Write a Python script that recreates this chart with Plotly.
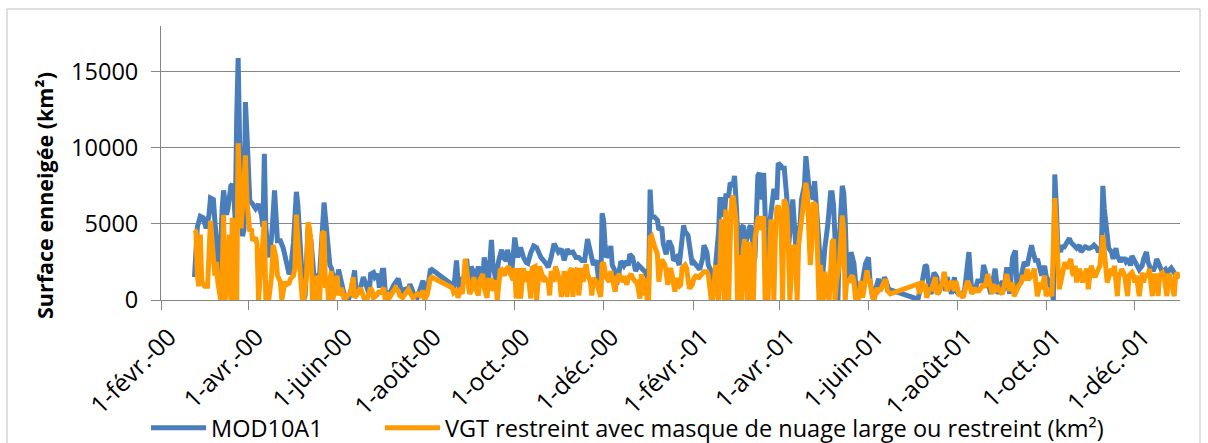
import pandas as pd
import plotly.graph_objects as go

# ---- data (day offset from 1 Feb 2000, value in km²) ----
start_date = "2000-02-01"

mod_days = [23, 25, 27, 29, 31, 33, 34, 36, 37, 38, 39, 41, 42, 43, 45, 46, 48, 49, 50, 51, 52, 53, 54, 55, 56, 57, 58, 59, 60, 61, 63, 65, 67, 69, 70, 71, 72, 74, 76, 78, 80, 82, 84, 86, 88, 89, 91, 93, 94, 96, 98, 99, 101, 103, 105, 107, 109, 112, 114, 116, 117, 120, 122, 124, 126, 129, 131, 133,
            134, 136, 137, 139, 141, 143, 144, 146, 147, 149, 150, 152, 153, 154, 156, 158, 160, 162, 163, 165, 167, 168, 170, 171, 173, 174, 176, 178, 180, 182, 183, 185, 186,
            200, 201, 203, 204, 206, 207, 209, 210, 212, 213, 215, 216, 218, 219, 221, 222, 224, 225, 227, 228, 230, 232, 234, 235, 237, 238, 240, 241,
            243, 245, 247, 249, 251, 252, 254, 256, 258, 261, 264, 266, 268, 270, 273, 275, 277, 279, 280, 283, 285, 287, 289, 291, 293, 295, 297, 299, 300, 302, 303, 304, 305, 306, 308, 309, 310, 312, 313, 315, 316, 318, 320, 321, 322, 324, 325, 326, 328, 329, 331, 333, 334, 335, 336, 337, 339, 341, 342, 344, 345, 347, 349, 351, 352, 354, 356,
            357, 359, 360, 362, 363, 365, 366, 368, 370, 372, 373, 375, 376, 378, 379, 381, 383, 384, 386, 387, 388, 390, 391, 393, 394, 395, 397, 398, 400, 401, 403, 404, 405, 407, 408, 410, 411, 413, 414, 416, 417, 418, 420, 421, 423, 424, 426, 427, 428, 430, 431, 432, 434, 436, 437, 439, 440, 442, 443, 445, 447, 448, 449, 451, 453, 454, 456, 458, 460, 461, 462, 463, 465, 466, 468, 469, 470,
            471, 473, 474, 476, 477, 479, 481, 482, 484, 486, 487, 489, 491, 493, 494, 496, 497, 499, 500,
            520, 521, 523, 525, 526, 528, 529, 531, 533, 534, 536, 538, 539, 540, 542, 543, 545, 546, 548, 550, 552, 553, 555, 556, 557, 559, 561, 562, 564, 565, 566, 568, 570, 572, 573, 575, 576, 578, 579, 581, 582, 583,
            585, 587, 588, 590, 592, 593, 595, 596, 598, 599, 601, 602, 604, 605, 607, 608, 610, 612, 613, 614, 615, 616, 618, 619, 620, 622, 624, 625, 627, 629, 631, 632, 634, 635, 637, 638, 640, 641, 643, 644, 646, 647, 648, 650, 651, 653, 654, 656, 657, 659, 660, 662, 663, 665, 666, 667, 669, 670, 672, 674, 675, 677, 678, 680, 682, 683, 684, 686, 688, 690, 691, 693, 694, 696, 698, 699]
mod_vals = [1500, 4800, 5500, 5400, 4700, 5600, 6700, 6600, 5200, 4000, 1700, 3500, 6000, 7200, 5600, 6000, 7500, 7600, 7000, 5200, 12000, 15900, 10500, 6000, 4200, 4600, 13000, 11000, 9000, 6500, 6300, 6000, 6300, 5600, 4800, 9600, 4800, 2800, 4100, 7200, 3900, 3900, 3400, 2500, 1700, 1900, 3800, 7100, 6300, 3000, 0, 300, 4700, 3900, 1700, 1500, 1700, 6400, 3900, 2300, 2100, 800, 2000, 1200, 300, 100, 800, 1950,
            500, 700, 800, 1500, 800, 400, 1700, 1800, 1500, 1700, 800, 1950, 1950, 600, 400, 600, 1000, 1200, 1400, 600, 400, 800, 600, 1050, 600, 300, 150, 800, 1270, 400, 600, 1950, 2000,
            1000, 600, 2600, 1300, 400, 1500, 1300, 2700, 400, 2200, 1800, 1300, 2200, 1700, 1000, 2800, 1900, 1300, 3950, 2400, 1300, 2600, 3300, 2800, 2600, 3300, 2400, 1900,
            4100, 2800, 3450, 2800, 2450, 2400, 3100, 3550, 3450, 2800, 2450, 2150, 2800, 3700, 3150, 3350, 2600, 3350, 3100, 3150, 2800, 2800, 2600, 2600, 4000, 3000, 2300, 2600, 1700, 300, 5700, 5250, 3700, 2800, 3100, 3550, 2300, 1900, 1000, 1900, 2550, 2250, 2550, 2250, 3000, 2800, 2300, 1900, 2300, 2150, 2000, 1800, 1450, 1200, 7250, 5450, 5450, 5250, 4600, 4800, 3700, 3000, 3900, 3450, 2600, 2800, 2300,
            3450, 4900, 4500, 4250, 3600, 2300, 2500, 2300, 2000, 2700, 3600, 3150, 2300, 1850, 550, 2300, 4450, 6600, 6600, 5450, 6850, 6850, 7700, 7500, 8150, 6600, 2700, 4700, 4900, 3400, 4500, 4700, 4900, 2950, 2700, 8150, 8350, 6600, 8350, 2950, 950, 4900, 6600, 7300, 6600, 9000, 8800, 8600, 8800, 6600, 3400, 4500, 6600, 3600, 4500, 4900, 6600, 7500, 9450, 7500, 6850, 6600, 7800, 5450, 2700, 950, 3400, 4900, 7050, 7050, 6200, 4000, 0, 3800, 7500, 7050, 5300,
            2000, 1300, 3150, 2400, 1300, 800, 150, 1300, 2400, 2800, 1300, 100, 800, 1400, 600, 1050, 1500, 1050, 700,
            50, 400, 1250, 2300, 2200, 600, 400, 1800, 1500, 400, 1050, 1250, 600, 1500, 800, 400, 1500, 600, 400, 400, 600, 1700, 3150, 1700, 600, 600, 1250, 1250, 1250, 2300, 2000, 1250, 400, 1700, 2050, 400, 800, 1250, 600, 2150, 1250, 400,
            2800, 3250, 700, 1150, 2050, 2500, 2250, 2700, 3600, 3150, 2500, 2700, 2050, 1600, 2250, 1600, 1150, 700, 0, 8250, 6250, 3600, 3150, 3600, 3400, 3800, 4050, 3800, 3600, 3400, 3600, 3150, 3400, 3500, 3400, 3400, 3500, 3600, 3400, 3150, 3400, 7500, 6000, 3600, 3400, 3150, 2700, 3400, 2900, 2500, 2700, 2700, 2500, 2700, 2250, 2900, 2500, 2250, 2000, 2250, 2700, 3150, 2500, 2000, 2000, 2250, 2700, 2250, 1800, 2000, 1800, 2000, 2100, 1800, 1500, 1400]

vgt_days = [23, 24, 25, 26, 27, 28, 30, 32, 34, 35, 37, 38, 39, 41, 42, 43, 44, 46, 47, 48, 49, 50, 52, 53, 54, 55, 57, 58, 59, 61, 62, 63, 65, 66, 67, 68, 69, 70, 71, 72, 74, 76, 77, 79, 80, 82, 83, 85, 86, 88, 89, 91, 92, 93, 94, 96, 97, 98, 100, 101, 102, 103, 104, 105, 106, 108, 109, 111, 112, 113, 114, 115, 117, 118, 120, 121, 122, 124, 126, 128,
            130, 132, 133, 135, 137, 139, 140, 142, 144, 145, 146, 148, 150, 151, 153, 154, 156, 157, 159, 161, 163, 164, 166, 168, 170, 171, 173, 175, 176, 178, 180, 181, 183, 185, 186,
            200, 201, 203, 204, 206, 207, 209, 210, 212, 213, 215, 216, 218, 219, 221, 222, 224, 225, 227, 228, 230, 231, 233, 234, 236, 237, 239, 240, 242,
            243, 244, 246, 247, 249, 250, 252, 254, 255, 257, 258, 260, 261, 263, 264, 266, 267, 268, 270, 271, 272, 274, 275, 277, 278, 279, 280, 282, 283, 284, 286, 287, 289, 290, 292, 293, 295, 296, 297, 299, 301, 302, 303, 304, 305, 306, 308, 309, 310, 312, 313, 315, 316, 318, 320, 321, 323, 324, 326, 327, 329, 330, 332, 333, 334, 335, 336, 337, 339, 341, 342, 343, 344, 346, 347, 348, 350, 351, 353, 354, 355,
            357, 358, 360, 361, 362, 363, 365, 366, 368, 369, 371, 373, 375, 376, 378, 379, 381, 382, 383, 384, 385, 387, 388, 389, 390, 391, 392, 393, 395, 396, 397, 398, 399, 400, 401, 403, 404, 405, 406, 407, 408, 410, 411, 412, 414, 415, 416, 417, 418, 419, 420, 421, 422, 423, 424, 426, 427, 428, 429, 430, 431, 432, 434, 435, 436, 437, 438, 439, 440, 442, 443, 444, 445, 446, 447, 448, 450, 451, 452, 453, 455, 456, 457, 459, 460, 461, 462, 463, 464, 466, 467, 468, 469, 470,
            471, 473, 474, 475, 476, 477, 479, 481, 482, 484, 485, 486, 487, 489, 490, 492, 493, 495, 497, 498, 499, 501,
            520, 521, 523, 524, 525, 526, 528, 529, 531, 532, 533, 535, 537, 538, 539, 540, 541, 543, 545, 546, 548, 549, 551, 552, 554, 556, 557, 559, 560, 562, 563, 565, 566, 568, 569, 571, 572, 573, 575, 576, 578, 580, 581, 583,
            585, 586, 588, 589, 591, 592, 594, 595, 596, 598, 600, 601, 602, 604, 605, 607, 608, 610, 612, 614, 615, 616, 617, 619, 620, 621, 622, 623, 625, 626, 627, 628, 629, 630, 631, 633, 634, 636, 637, 638, 639, 641, 642, 644, 645, 647, 648, 649, 650, 652, 653, 654, 655, 657, 658, 659, 660, 661, 662, 664, 665, 667, 668, 669, 670, 672, 673, 674, 675, 676, 678, 679, 681, 682, 684, 685, 686, 688, 689, 691, 692, 693, 694, 696, 697, 698, 699]
vgt_vals = [4600, 4500, 1600, 900, 4300, 1200, 900, 900, 5200, 3900, 1600, 2500, 1200, 0, 1500, 5600, 0, 1500, 4300, 0, 5400, 0, 0, 10300, 7000, 4700, 7800, 9500, 6500, 4500, 4700, 3900, 4100, 3700, 0, 1600, 3400, 3900, 5200, 0, 0, 1600, 3600, 2800, 1600, 1200, 0, 1200, 1000, 1100, 1400, 1600, 2100, 5600, 3900, 1600, 100, 0, 1600, 5100, 4700, 3900, 0, 1600, 0, 1600, 0, 4400, 4500, 800, 1600, 0, 1900, 0, 1200, 1600, 300, 800, 0, 300,
            400, 1500, 150, 400, 800, 150, 0, 150, 800, 600, 150, 300, 600, 400, 800, 0, 300, 150, 500, 800, 600, 300, 150, 400, 700, 500, 150, 300, 400, 300, 600, 0, 400, 1400, 1500,
            800, 500, 700, 150, 800, 400, 2700, 2000, 400, 600, 1500, 800, 300, 1300, 1700, 800, 150, 1300, 1300, 600, 1300, 0, 1950, 2000, 1600, 2000, 2200, 1700, 1300,
            2100, 100, 2100, 100, 2100, 1200, 1900, 100, 2100, 2200, 0, 2200, 1900, 1200, 1400, 1200, 300, 1900, 1200, 2200, 1900, 1200, 200, 1900, 1200, 200, 1700, 2100, 200, 1700, 2100, 300, 2100, 1200, 2350, 1700, 1200, 300, 1450, 1200, 550, 200, 2350, 2450, 1900, 1450, 1200, 1900, 1450, 550, 1450, 1700, 1200, 1550, 1000, 1450, 1700, 1450, 1200, 1200, 100, 1700, 300, 1450, 0, 0, 4100, 4200, 3550, 3000, 1200, 2100, 2650, 2350, 1900, 1000, 2100, 1700, 550, 1450, 800,
            1000, 2100, 2300, 2100, 1400, 750, 1000, 1400, 1650, 1400, 1650, 1850, 1850, 1650, 0, 0, 2300, 1400, 0, 2300, 5300, 0, 5950, 2300, 0, 3900, 6600, 6850, 5300, 0, 2950, 2400, 0, 3400, 4000, 0, 3800, 2300, 0, 0, 4000, 5300, 5500, 4600, 5500, 0, 2300, 0, 4000, 5300, 4000, 0, 4000, 6000, 6200, 4900, 0, 6600, 6400, 5950, 3400, 0, 3600, 3400, 2300, 0, 3600, 4450, 5300, 6400, 7700, 7050, 3400, 2300, 3600, 6400, 6200, 2300, 0, 2300, 0, 1850, 950, 0, 1850, 3800, 4000, 0, 1200, 2300, 4000, 5550, 4450, 0,
            1250, 1250, 1500, 1600, 1250, 150, 50, 1250, 150, 1250, 1950, 1250, 1250, 150, 50, 800, 600, 800, 1250, 1250, 600, 400,
            1050, 400, 1250, 600, 1050, 150, 800, 600, 1250, 1500, 400, 600, 1250, 1850, 1250, 600, 800, 1250, 600, 1250, 400, 400, 150, 600, 1250, 800, 400, 800, 600, 600, 800, 1050, 800, 1700, 1250, 400, 1050, 600, 800, 600, 400, 1250, 1700, 600,
            1150, 250, 700, 900, 1150, 1600, 1350, 2050, 1350, 1600, 2050, 700, 250, 1150, 700, 1600, 250, 700, 250, 6700, 4000, 2700, 700, 1600, 2250, 2500, 2050, 2250, 2700, 1800, 1600, 2250, 1150, 1800, 2050, 1150, 1600, 2050, 700, 1600, 2250, 1600, 1600, 2050, 2250, 4250, 3400, 2050, 1150, 1800, 2050, 1600, 2250, 250, 1800, 1600, 2050, 1800, 1600, 250, 1600, 1800, 1600, 1150, 1600, 250, 1600, 1800, 1150, 1600, 1600, 2050, 250, 1600, 1600, 250, 1600, 1800, 1600, 250, 1600, 1600, 1150, 250, 1600, 1800, 1400]

tick_dates = ["2000-02-01", "2000-04-01", "2000-06-01", "2000-08-01", "2000-10-01", "2000-12-01",
              "2001-02-01", "2001-04-01", "2001-06-01", "2001-08-01", "2001-10-01", "2001-12-01"]
tick_labels = ["1-févr.-00", "1-avr.-00", "1-juin-00", "1-août-00", "1-oct.-00", "1-déc.-00",
               "1-févr.-01", "1-avr.-01", "1-juin-01", "1-août-01", "1-oct.-01", "1-déc.-01"]
y_ticks = [0, 5000, 10000, 15000]
y_title = "Surface enneigée (km²)"

series_names = ["MOD10A1", "VGT restreint avec masque de nuage large ou restreint (km²)"]
colors = ["#4A7EBB", "#FF9A00"]

base = pd.Timestamp(start_date)
mod_x = [base + pd.Timedelta(days=d) for d in mod_days]
vgt_x = [base + pd.Timedelta(days=d) for d in vgt_days]

fig = go.Figure()
fig.add_trace(go.Scatter(x=mod_x, y=mod_vals, mode="lines", name=series_names[0],
                         line=dict(color=colors[0], width=5), legend="legend"))
fig.add_trace(go.Scatter(x=vgt_x, y=vgt_vals, mode="lines", name=series_names[1],
                         line=dict(color=colors[1], width=5), legend="legend2"))

W, H = 1208, 443
ml, mr, mt, mb = 161, 28, 26, 143
pw, ph = W - ml - mr, H - mt - mb

def px_x(p):
    return (p - ml) / pw

def px_y(p):
    return (H - mb - p) / ph

FONT = "'Open Sans', sans-serif"
leg_common = dict(orientation="h", yanchor="middle", xanchor="left",
                  font=dict(size=23.5, family=FONT, color="#000000"),
                  bgcolor="rgba(0,0,0,0)", itemwidth=55)
fig.update_layout(
    width=W, height=H,
    margin=dict(l=ml, r=mr, t=mt, b=mb, autoexpand=False),
    paper_bgcolor="white", plot_bgcolor="white",
    font=dict(family=FONT, size=22, color="#000000"),
    showlegend=True,
    legend=dict(x=px_x(146), y=px_y(428), **leg_common),
    legend2=dict(x=px_x(380), y=px_y(428), **leg_common),
    xaxis=dict(type="date", range=["2000-02-01", "2002-01-01"], automargin=False,
               tickvals=tick_dates, ticktext=tick_labels, tickangle=-45,
               showline=True, linecolor="#868686", linewidth=1,
               ticks="outside", ticklen=9, tickcolor="#868686",
               ticklabelshift=8, ticklabelstandoff=3,
               showgrid=False, zeroline=False, tickfont=dict(size=24.5, family=FONT)),
    yaxis=dict(range=[0, 18000], tickvals=y_ticks, ticktext=[str(v) for v in y_ticks], automargin=False,
               showline=True, linecolor="#868686", linewidth=1,
               ticks="outside", ticklen=9, tickcolor="#868686",
               showgrid=True, gridcolor="#868686", gridwidth=1, zeroline=False,
               tickfont=dict(size=23.5, family=FONT), ticklabelstandoff=8),
    annotations=[dict(text="<b>" + y_title + "</b>", textangle=-90, showarrow=False,
                      xref="paper", yref="paper", x=px_x(44), y=px_y(196),
                      xanchor="center", yanchor="middle",
                      font=dict(size=21.5, family=FONT, color="#000000"))],
    shapes=[dict(type="rect", xref="paper", yref="paper",
                 x0=px_x(7), x1=px_x(1200), y0=px_y(447), y1=px_y(9),
                 line=dict(color="#BFBFBF", width=1), fillcolor="rgba(0,0,0,0)", layer="below")],
)

fig.write_html("out.html", config={"displayModeBar": False},
               post_script="document.body.style.margin='0px';document.body.style.overflow='hidden';")
